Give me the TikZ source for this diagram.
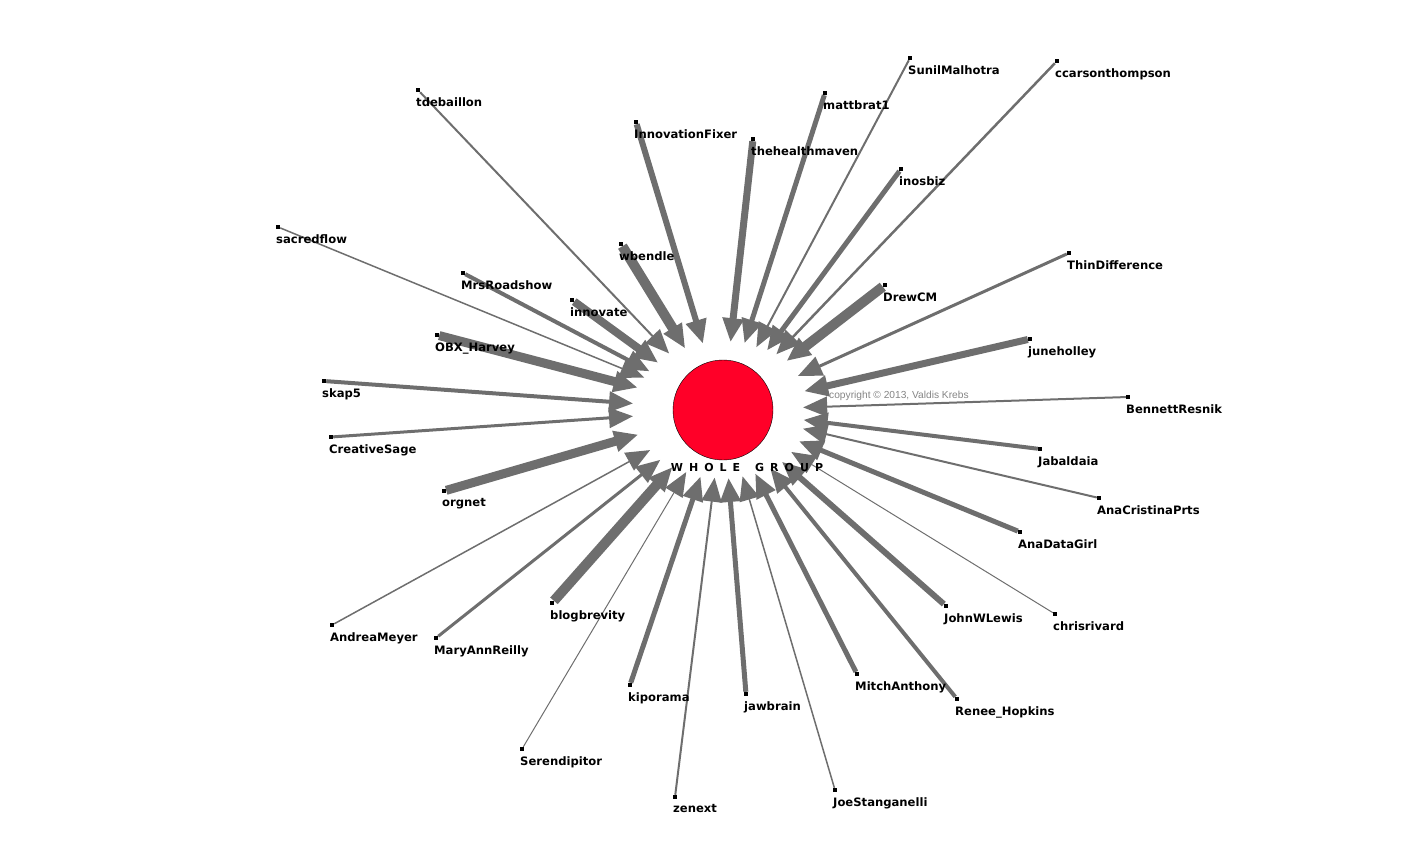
\documentclass[tikz,border=0pt]{standalone}
\usepackage{fontspec}
\setmainfont{DejaVu Sans}
\newfontfamily\copyfont{Liberation Sans}
\usetikzlibrary{arrows.meta, backgrounds}
\definecolor{edgegray}{HTML}{6E6E6E}
\definecolor{hubred}{HTML}{FF0028}
\definecolor{copygray}{HTML}{858585}

\begin{document}
\begin{tikzpicture}[x=1pt, y=-1pt,
    dot/.style={fill=black, inner sep=0pt, minimum size=4pt},
    lbl/.style={anchor=north west, inner sep=0pt, xshift=-2pt, yshift=-5pt, font=\bfseries\fontsize{11.6}{13}\selectfont},
    grouplbl/.style={anchor=north, inner sep=0pt, xshift=24pt, yshift=-3pt, font=\bfseries\fontsize{11}{13}\selectfont\addfontfeature{LetterSpace=55}},
    hub/.style={circle, draw=black, fill=hubred, minimum size=100pt, inner sep=0pt},
    edge/.style={draw=edgegray, -{Triangle[length=24pt, width=20pt]}}]
  \useasboundingbox (0,0) rectangle (1407,857);

  % centre
  \node[hub, label={[grouplbl]below:WHOLE\hspace{5pt} GROUP}] (hub) at (723,410) {};
  \node[anchor=west, inner sep=0pt, text=copygray, font=\copyfont\fontsize{10.2}{11}\selectfont] (copyright) at (829,396) {copyright \textcopyright{} 2013, Valdis Krebs};

  % upper left
  \node[dot, label={[lbl]below:tdebaillon}] (tdebaillon) at (418,90) {};
  \node[dot, label={[lbl]below:sacredflow}] (sacredflow) at (278,227) {};
  \node[dot, label={[lbl]below:MrsRoadshow}] (mrsroadshow) at (463,273) {};
  \node[dot, label={[lbl]below:innovate}] (innovate) at (572,300) {};
  \node[dot, label={[lbl]below:OBX\_Harvey}] (obx) at (437,335) {};
  \node[dot, label={[lbl]below:skap5}] (skap) at (324,381) {};
  \node[dot, label={[lbl]below:wbendle}] (wbendle) at (621,244) {};
  \node[dot, label={[lbl]below:InnovationFixer}] (innovationfixer) at (636,122) {};

  % lower left
  \node[dot, label={[lbl]below:CreativeSage}] (creativesage) at (331,437) {};
  \node[dot, label={[lbl]below:orgnet}] (orgnet) at (444,491) {};
  \node[dot, label={[lbl]below:AndreaMeyer}] (andreameyer) at (332,625) {};
  \node[dot, label={[lbl]below:MaryAnnReilly}] (maryannreilly) at (436,638) {};
  \node[dot, label={[lbl]below:blogbrevity}] (blogbrevity) at (552,603) {};
  \node[dot, label={[lbl]below:Serendipitor}] (serendipitor) at (522,749) {};
  \node[dot, label={[lbl]below:kiporama}] (kiporama) at (630,685) {};
  \node[dot, label={[lbl]below:zenext}] (zenext) at (675,797) {};

  % lower right
  \node[dot, label={[lbl]below:jawbrain}] (jawbrain) at (746,694) {};
  \node[dot, label={[lbl]below:JoeStanganelli}] (joestanganelli) at (835,790) {};
  \node[dot, label={[lbl]below:MitchAnthony}] (mitchanthony) at (857,674) {};
  \node[dot, label={[lbl]below:Renee\_Hopkins}] (renee) at (957,699) {};
  \node[dot, label={[lbl]below:JohnWLewis}] (johnwlewis) at (946,606) {};
  \node[dot, label={[lbl]below:chrisrivard}] (chrisrivard) at (1055,614) {};
  \node[dot, label={[lbl]below:AnaDataGirl}] (anadatagirl) at (1020,532) {};
  \node[dot, label={[lbl]below:AnaCristinaPrts}] (anacristina) at (1099,498) {};
  \node[dot, label={[lbl]below:Jabaldaia}] (jabaldaia) at (1040,449) {};

  % upper right
  \node[dot, label={[lbl]below:BennettResnik}] (bennettresnik) at (1128,397) {};
  \node[dot, label={[lbl]below:juneholley}] (juneholley) at (1030,339) {};
  \node[dot, label={[lbl]below:ThinDifference}] (thindifference) at (1069,253) {};
  \node[dot, label={[lbl]below:DrewCM}] (drewcm) at (885,285) {};
  \node[dot, label={[lbl]below:inosbiz}] (inosbiz) at (901,169) {};
  \node[dot, label={[lbl]below:ccarsonthompson}] (ccarson) at (1057,61) {};
  \node[dot, label={[lbl]below:SunilMalhotra}] (sunilmalhotra) at (910,58) {};
  \node[dot, label={[lbl]below:mattbrat1}] (mattbrat) at (825,93) {};
  \node[dot, label={[lbl]below:thehealthmaven}] (thehealthmaven) at (753,139) {};

  % edges into the group
  \begin{pgfonlayer}{background}
    \draw[edge, line width=2pt, shorten >=28pt] (tdebaillon) -- (hub);
    \draw[edge, line width=1.5pt, shorten >=35pt] (sacredflow) -- (hub);
    \draw[edge, line width=4pt, shorten >=33pt] (mrsroadshow) -- (hub);
    \draw[edge, line width=8pt, shorten >=30pt] (innovate) -- (hub);
    \draw[edge, line width=9pt, shorten >=38pt] (obx) -- (hub);
    \draw[edge, line width=4pt, shorten >=40pt] (skap) -- (hub);
    \draw[edge, line width=10pt, shorten >=22pt] (wbendle) -- (hub);
    \draw[edge, line width=6pt, shorten >=19pt] (innovationfixer) -- (hub);

    \draw[edge, line width=3pt, shorten >=40pt] (creativesage) -- (hub);
    \draw[edge, line width=9pt, shorten >=38pt] (orgnet) -- (hub);
    \draw[edge, line width=1.5pt, shorten >=33pt] (andreameyer) -- (hub);
    \draw[edge, line width=3pt, shorten >=30pt] (maryannreilly) -- (hub);
    \draw[edge, line width=10pt, shorten >=26pt] (blogbrevity) -- (hub);
    \draw[edge, line width=1pt, shorten >=22pt] (serendipitor) -- (hub);
    \draw[edge, line width=5pt, shorten >=20pt] (kiporama) -- (hub);
    \draw[edge, line width=2pt, shorten >=18pt] (zenext) -- (hub);

    \draw[edge, line width=5pt, shorten >=18pt] (jawbrain) -- (hub);
    \draw[edge, line width=1.5pt, shorten >=19pt] (joestanganelli) -- (hub);
    \draw[edge, line width=5pt, shorten >=21pt] (mitchanthony) -- (hub);
    \draw[edge, line width=4pt, shorten >=25pt] (renee) -- (hub);
    \draw[edge, line width=6pt, shorten >=28pt] (johnwlewis) -- (hub);
    \draw[edge, line width=1pt, shorten >=30pt] (chrisrivard) -- (hub);
    \draw[edge, line width=5pt, shorten >=32pt] (anadatagirl) -- (hub);
    \draw[edge, line width=2pt, shorten >=32pt] (anacristina) -- (hub);
    \draw[edge, line width=4pt, shorten >=31pt] (jabaldaia) -- (hub);

    \draw[edge, line width=2pt, shorten >=30pt] (bennettresnik) -- (hub);
    \draw[edge, line width=7pt, shorten >=33pt] (juneholley) -- (hub);
    \draw[edge, line width=3pt, shorten >=32pt] (thindifference) -- (hub);
    \draw[edge, line width=10pt, shorten >=30pt] (drewcm) -- (hub);
    \draw[edge, line width=5pt, shorten >=24pt] (inosbiz) -- (hub);
    \draw[edge, line width=2.5pt, shorten >=27pt] (ccarson) -- (hub);
    \draw[edge, line width=2pt, shorten >=21pt] (sunilmalhotra) -- (hub);
    \draw[edge, line width=5pt, shorten >=20pt] (mattbrat) -- (hub);
    \draw[edge, line width=7pt, shorten >=18pt] (thehealthmaven) -- (hub);
  \end{pgfonlayer}
\end{tikzpicture}
\end{document}
